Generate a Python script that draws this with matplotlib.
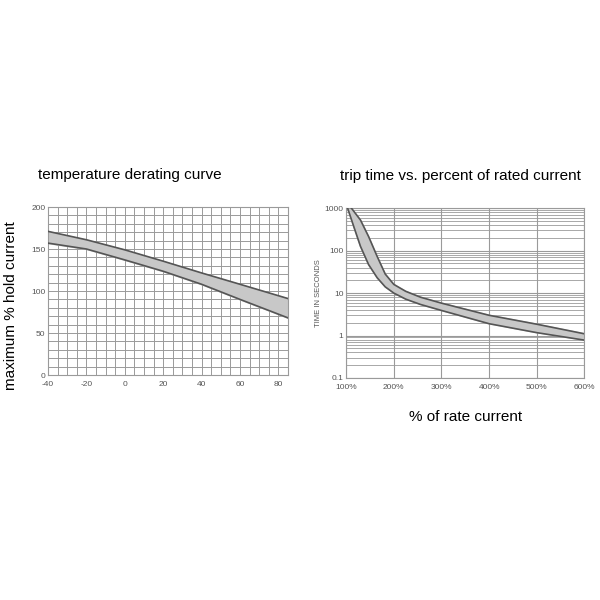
import matplotlib.pyplot as plt
import numpy as np
from matplotlib.ticker import LogLocator, FixedLocator, NullFormatter

plt.rcParams['font.family'] = ['Liberation Sans', 'DejaVu Sans']
plt.rcParams['axes.unicode_minus'] = False

# curva de reduccion por temperatura
temp = np.array([-40, -20, 0, 20, 40, 60, 85])
hold_max = np.array([171, 161, 149, 135.5, 121.5, 108, 91])
hold_min = np.array([157, 150, 137, 123.5, 108, 90, 68])

# tiempo de disparo vs % de corriente
pct_up = np.array([111, 130, 147, 165, 182, 200, 225, 256, 300, 400, 500, 600])
t_up = np.array([1000, 525, 215, 73, 28, 16, 11, 8, 5.8, 3.0, 1.85, 1.1])
pct_lo = np.array([103, 116, 130, 147, 165, 182, 200, 225, 256, 300, 400, 500, 600])
t_lo = np.array([1000, 366, 126, 47, 23, 14, 10, 7.2, 5.4, 3.9, 1.9, 1.17, 0.78])

gris = "#555555"
relleno = "#c8c8c8"
rejilla = "#9a9a9a"

fig = plt.figure(figsize=(6, 6), dpi=100)

# --- izquierda
ax1 = fig.add_axes([0.08, 0.375, 0.40, 0.28])
ax1.fill_between(temp, hold_min, hold_max, color=relleno, zorder=2)
ax1.plot(temp, hold_max, color=gris, lw=1.2, zorder=3)
ax1.plot(temp, hold_min, color=gris, lw=1.2, zorder=3)
ax1.set_xlim(-40, 85)
ax1.set_ylim(0, 200)
ax1.set_xticks([-40, -20, 0, 20, 40, 60, 80])
ax1.set_yticks([0, 50, 100, 150, 200])
ax1.xaxis.set_minor_locator(FixedLocator(np.arange(-40, 86, 5)))
ax1.yaxis.set_minor_locator(FixedLocator(np.arange(0, 201, 10)))
ax1.grid(True, which="both", color=rejilla, lw=0.7, zorder=1)
ax1.tick_params(which="both", length=0, labelsize=6, labelcolor=gris)
ax1.tick_params(axis="x", pad=4)
ax1.tick_params(axis="y", pad=2)
for s in ax1.spines.values():
    s.set_color(rejilla)
ax1.set_title("temperature derating curve", fontsize=11, pad=20, x=0.34)
fig.text(0.018, 0.49, "maximum % hold current", rotation=90,
         ha="center", va="center", fontsize=11)

# --- derecha
ax2 = fig.add_axes([0.577, 0.37, 0.397, 0.283])
ax2.set_yscale("log")
ax2.fill(np.concatenate([pct_up, pct_lo[::-1]]),
         np.concatenate([t_up, t_lo[::-1]]), color=relleno, zorder=2)
ax2.plot(pct_up, t_up, color=gris, lw=1.2, zorder=3)
ax2.plot(pct_lo, t_lo, color=gris, lw=1.2, zorder=3)
ax2.set_xlim(100, 600)
ax2.set_ylim(0.1, 1000)
ax2.set_xticks([100, 200, 300, 400, 500, 600])
ax2.set_xticklabels(["100%", "200%", "300%", "400%", "500%", "600%"])
ax2.set_yticks([0.1, 1, 10, 100, 1000])
ax2.set_yticklabels(["0.1", "1", "10", "100", "1000"])
ax2.yaxis.set_minor_locator(LogLocator(base=10, subs=np.arange(2, 10)))
ax2.yaxis.set_minor_formatter(NullFormatter())
ax2.grid(True, which="major", color=rejilla, lw=0.8, zorder=1)
ax2.grid(True, which="minor", axis="y", color=rejilla, lw=0.6, zorder=1)
ax2.tick_params(which="both", length=0, labelsize=6, labelcolor=gris)
ax2.tick_params(axis="x", pad=4)
ax2.tick_params(axis="y", pad=2)
for s in ax2.spines.values():
    s.set_color(rejilla)
ax2.set_ylabel("TIME IN SECONDS", fontsize=5.5, color=gris, labelpad=2)
ax2.set_title("trip time vs. percent of rated current", fontsize=11, pad=20, x=0.48)
ax2.set_xlabel("% of rate current", fontsize=11, labelpad=14)

plt.savefig("out.png", dpi=100)
